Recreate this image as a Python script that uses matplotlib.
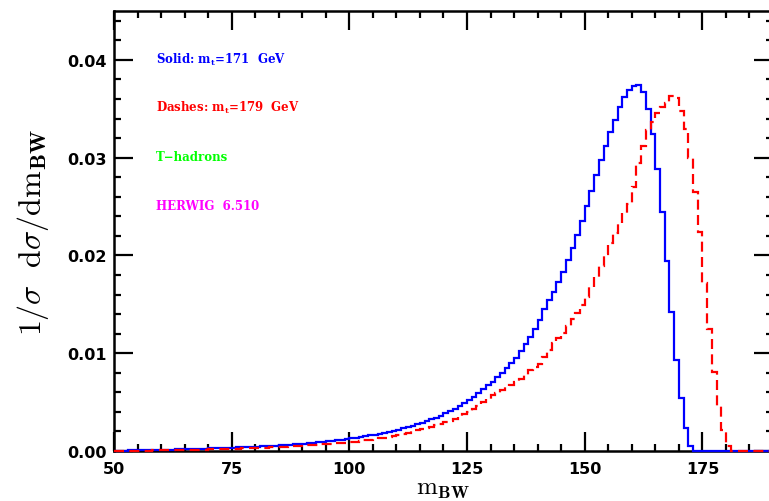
import matplotlib
matplotlib.use('Agg')
import matplotlib.pyplot as plt
import numpy as np
from matplotlib.ticker import MultipleLocator, FormatStrFormatter

# 1 GeV bins, 50 ~ 190
edges = np.arange(50, 191, 1)

# Solid: m_t = 171 GeV
solid_171 = [
    0.00003, 0.00004, 0.00005, 0.00006, 0.00007, 0.00008, 0.00009, 0.00010, 0.00011, 0.00012,
    0.00013, 0.00014, 0.00015, 0.00016, 0.00017, 0.00019, 0.00020, 0.00021, 0.00023, 0.00024,
    0.00026, 0.00027, 0.00029, 0.00031, 0.00032, 0.00034, 0.00036, 0.00038, 0.00040, 0.00043,
    0.00045, 0.00048, 0.00050, 0.00053, 0.00056, 0.00059, 0.00062, 0.00065, 0.00069, 0.00072,
    0.00076, 0.00080, 0.00084, 0.00089, 0.00094, 0.00099, 0.00104, 0.00110, 0.00116, 0.00122,
    0.00129, 0.00136, 0.00143, 0.00151, 0.00159, 0.00168, 0.00177, 0.00187, 0.00197, 0.00208,
    0.00219, 0.00231, 0.00244, 0.00258, 0.00272, 0.00288, 0.00305, 0.00323, 0.00342, 0.00362,
    0.00384, 0.00408, 0.00433, 0.00460, 0.00490, 0.00520, 0.00555, 0.00590, 0.00630, 0.00670,
    0.00710, 0.00752, 0.00800, 0.00850, 0.00900, 0.00955, 0.01020, 0.01090, 0.01170, 0.01250,
    0.01340, 0.01450, 0.01540, 0.01630, 0.01730, 0.01835, 0.01950, 0.02075, 0.02210, 0.02350,
    0.02510, 0.02660, 0.02820, 0.02980, 0.03120, 0.03260, 0.03390, 0.03520, 0.03620, 0.03690,
    0.03730, 0.03740, 0.03670, 0.03500, 0.03240, 0.02880, 0.02440, 0.01940, 0.01420, 0.00930,
    0.00540, 0.00240, 0.00050, 0.0, 0.0, 0.0, 0.0, 0.0, 0.0, 0.0,
    0.0, 0.0, 0.0, 0.0, 0.0, 0.0, 0.0, 0.0, 0.0, 0.0,
]

# Dashes: m_t = 179 GeV
dashes_179 = [
    0.00002, 0.00002, 0.00003, 0.00003, 0.00004, 0.00004, 0.00005, 0.00005, 0.00006, 0.00006,
    0.00007, 0.00008, 0.00008, 0.00009, 0.00010, 0.00011, 0.00012, 0.00013, 0.00014, 0.00015,
    0.00016, 0.00017, 0.00018, 0.00020, 0.00021, 0.00022, 0.00024, 0.00026, 0.00027, 0.00029,
    0.00031, 0.00033, 0.00035, 0.00037, 0.00040, 0.00042, 0.00044, 0.00047, 0.00050, 0.00052,
    0.00055, 0.00058, 0.00061, 0.00064, 0.00067, 0.00070, 0.00074, 0.00078, 0.00082, 0.00086,
    0.00090, 0.00096, 0.00102, 0.00108, 0.00115, 0.00122, 0.00130, 0.00138, 0.00147, 0.00157,
    0.00168, 0.00178, 0.00189, 0.00200, 0.00212, 0.00224, 0.00237, 0.00250, 0.00264, 0.00278,
    0.00292, 0.00310, 0.00330, 0.00352, 0.00375, 0.00400, 0.00430, 0.00462, 0.00497, 0.00533,
    0.00570, 0.00595, 0.00622, 0.00650, 0.00675, 0.00705, 0.00740, 0.00780, 0.00825, 0.00860,
    0.00890, 0.00960, 0.01030, 0.01100, 0.01160, 0.01210, 0.01280, 0.01350, 0.01410, 0.01490,
    0.01580, 0.01680, 0.01780, 0.01890, 0.02010, 0.02130, 0.02230, 0.02330, 0.02430, 0.02530,
    0.02700, 0.02950, 0.03120, 0.03280, 0.03360, 0.03460, 0.03520, 0.03560, 0.03630, 0.03610,
    0.03480, 0.03290, 0.03000, 0.02650, 0.02240, 0.01720, 0.01250, 0.00810, 0.00460, 0.00210,
    0.00050, 0.0, 0.0, 0.0, 0.0, 0.0, 0.0, 0.0, 0.0, 0.0,
]

labels = ['Solid: $\\mathbf{m_t}$=171  GeV',
          'Dashes: $\\mathbf{m_t}$=179  GeV',
          'T\u2212hadrons',
          'HERWIG  6.510']
label_colors = ['#0000ff', '#ff0000', '#00ff00', '#ff00ff']

plt.rcParams['mathtext.fontset'] = 'cm'

fig = plt.figure(figsize=(7.69, 5.02), dpi=100)
ax = fig.add_axes([114 / 769, 50 / 502, 659 / 769, 440 / 502])

ax.stairs(solid_171, edges, baseline=None, color='#0000ff', linewidth=1.6,
          zorder=3, clip_on=False)
ax.stairs(dashes_179, edges, baseline=None, color='#ff0000', linewidth=1.6,
          linestyle=(0, (4.5, 2.4)), zorder=3, clip_on=False)

ax.set_xlim(50, 190)
ax.set_ylim(0, 0.045)

ax.xaxis.set_major_locator(MultipleLocator(25))
ax.xaxis.set_minor_locator(MultipleLocator(5))
ax.yaxis.set_major_locator(MultipleLocator(0.01))
ax.yaxis.set_minor_locator(MultipleLocator(0.002))
ax.yaxis.set_major_formatter(FormatStrFormatter('%.2f'))

ax.tick_params(which='both', direction='in', top=True, right=True, width=1.6)
ax.tick_params(which='major', length=14, labelsize=11.5)
ax.tick_params(axis='x', which='major', pad=7)
ax.tick_params(axis='y', which='major', pad=5)
ax.tick_params(which='minor', length=5)
for lab in ax.get_xticklabels() + ax.get_yticklabels():
    lab.set_fontweight('bold')
for sp in ax.spines.values():
    sp.set_linewidth(1.8)

ax.set_xlabel(r'$\mathrm{m}_{\mathbf{BW}}$', fontsize=18)
ax.xaxis.set_label_coords(0.5, -0.057)
ax.set_ylabel(r'$1/\sigma\ \ \mathrm{d}\sigma/\mathrm{dm}_{\mathbf{BW}}$', fontsize=23, labelpad=12)

ys = [0.891, 0.782, 0.670, 0.557]
for txt, c, y in zip(labels, label_colors, ys):
    ax.text(0.064, y, txt, transform=ax.transAxes, color=c, fontsize=8.5,
            fontweight='bold', family='DejaVu Serif', math_fontfamily='dejavuserif',
            va='center', ha='left')

fig.savefig('out.png', dpi=100)
